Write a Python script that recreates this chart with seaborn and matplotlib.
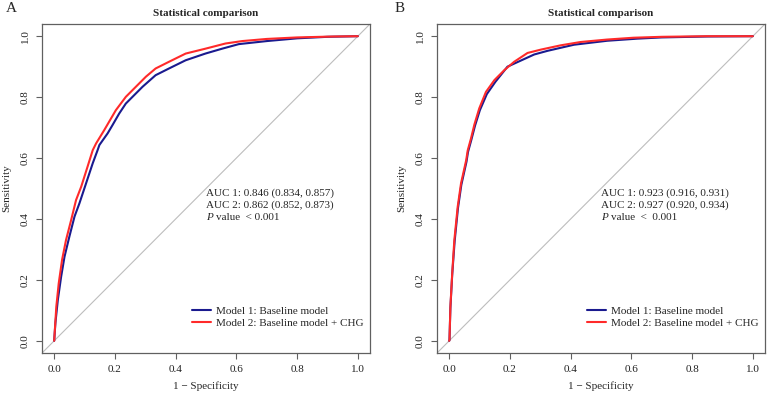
"""
ROC comparison: baseline model vs baseline model + CHG
"""

import pandas as pd
import matplotlib
matplotlib.use('Agg')
import matplotlib.pyplot as plt
import seaborn as sns

# Panel A
a_m1_fpr = [0, 0.004, 0.012, 0.023, 0.034, 0.050, 0.067, 0.083, 0.105, 0.127, 0.143, 0.149,
            0.176, 0.192, 0.214, 0.236, 0.258, 0.291, 0.334, 0.378, 0.433, 0.498, 0.553,
            0.608, 0.70, 0.80, 0.90, 1.0]
a_m1_tpr = [0, 0.058, 0.134, 0.211, 0.276, 0.342, 0.408, 0.451, 0.517, 0.583, 0.626, 0.643,
            0.681, 0.708, 0.746, 0.779, 0.801, 0.834, 0.872, 0.894, 0.921, 0.943, 0.959,
            0.974, 0.984, 0.993, 0.998, 1.0]
a_m2_fpr = [0, 0.007, 0.015, 0.026, 0.039, 0.056, 0.072, 0.089, 0.110, 0.127, 0.138, 0.165,
            0.203, 0.236, 0.269, 0.302, 0.334, 0.378, 0.433, 0.498, 0.564, 0.619, 0.70,
            0.80, 0.92, 1.0]
a_m2_tpr = [0, 0.112, 0.189, 0.266, 0.331, 0.397, 0.462, 0.506, 0.572, 0.626, 0.648, 0.692,
            0.757, 0.801, 0.834, 0.867, 0.894, 0.916, 0.943, 0.959, 0.976, 0.984, 0.991,
            0.996, 0.999, 1.0]

# Panel B
b_m1_fpr = [0, 0.001, 0.004, 0.010, 0.018, 0.029, 0.040, 0.057, 0.062, 0.073, 0.085, 0.101,
            0.124, 0.152, 0.192, 0.236, 0.28, 0.324, 0.411, 0.52, 0.62, 0.70, 0.85, 1.0]
b_m1_tpr = [0, 0.003, 0.108, 0.218, 0.327, 0.436, 0.512, 0.588, 0.62, 0.66, 0.706, 0.757,
            0.81, 0.85, 0.90, 0.92, 0.94, 0.952, 0.972, 0.985, 0.992, 0.996, 0.999, 1.0]
b_m2_fpr = [0, 0.001, 0.004, 0.010, 0.017, 0.028, 0.039, 0.056, 0.061, 0.072, 0.083, 0.099,
            0.121, 0.149, 0.181, 0.214, 0.258, 0.302, 0.367, 0.433, 0.52, 0.607, 0.70,
            0.85, 1.0]
b_m2_tpr = [0, 0.003, 0.112, 0.222, 0.331, 0.44, 0.517, 0.593, 0.625, 0.665, 0.71, 0.763,
            0.817, 0.856, 0.888, 0.916, 0.945, 0.956, 0.970, 0.981, 0.989, 0.995, 0.998,
            1.0, 1.0]

model_labels = ['Model 1: Baseline model', 'Model 2: Baseline model + CHG']
auc_a = ['AUC 1: 0.846 (0.834, 0.857)', 'AUC 2: 0.862 (0.852, 0.873)', 'value  < 0.001']
auc_b = ['AUC 1: 0.923 (0.916, 0.931)', 'AUC 2: 0.927 (0.920, 0.934)', 'value  <  0.001']
ticks = [0.0, 0.2, 0.4, 0.6, 0.8, 1.0]
tick_labels = ['0.0', '0.2', '0.4', '0.6', '0.8', '1.0']

sns.set_style('ticks')
plt.rcParams['font.family'] = ['Liberation Serif', 'DejaVu Serif']
plt.rcParams['font.size'] = 8

palette = {model_labels[0]: '#1a1a8f', model_labels[1]: '#ff2a2a'}
spine_col = '#606060'


def make_df(m1_fpr, m1_tpr, m2_fpr, m2_tpr):
    d1 = pd.DataFrame({'fpr': m1_fpr, 'tpr': m1_tpr, 'model': model_labels[0]})
    d2 = pd.DataFrame({'fpr': m2_fpr, 'tpr': m2_tpr, 'model': model_labels[1]})
    return pd.concat([d1, d2], ignore_index=True)


def draw_panel(ax, df, auc_lines):
    ax.axline((0, 0), (1, 1), color='#bdbdbd', linewidth=0.8, zorder=1)
    sns.lineplot(data=df, x='fpr', y='tpr', hue='model', palette=palette,
                 estimator=None, sort=False, linewidth=1.5, ax=ax, zorder=3)
    ax.set_xlim(-0.04, 1.04)
    ax.set_ylim(-0.04, 1.04)
    ax.set_xticks(ticks)
    ax.set_xticklabels(tick_labels)
    ax.set_yticks(ticks)
    ax.set_yticklabels(tick_labels, rotation=90, va='center')
    ax.tick_params(direction='out', length=4.3, width=0.8, color=spine_col,
                   labelsize=8, pad=4.5, labelcolor='#222222')
    for s in ax.spines.values():
        s.set_visible(True)
        s.set_color(spine_col)
        s.set_linewidth(0.9)
    ax.set_xlabel('1 \u2212 Specificity', fontsize=8, labelpad=5)
    ax.set_ylabel('Sensitivity', fontsize=8, labelpad=7)
    ax.set_title('Statistical comparison', fontsize=8, fontweight='bold', pad=6)

    # AUC annotation block
    ax.text(0.5, 0.485, auc_lines[0], fontsize=8, va='center', ha='left')
    ax.text(0.5, 0.445, auc_lines[1], fontsize=8, va='center', ha='left')
    ax.text(0.5, 0.405, 'P', fontsize=8, va='center', ha='left', style='italic')
    ax.annotate(auc_lines[2], xy=(0.5, 0.405), xytext=(7.2, 0), textcoords='offset points',
                fontsize=8, va='center', ha='left')

    handles, labels = ax.get_legend_handles_labels()
    ax.legend(handles, labels, loc='upper left', bbox_to_anchor=(0.455, 0.115),
              bbox_transform=ax.transData, frameon=False, fontsize=8,
              handlelength=1.7, handletextpad=0.4, labelspacing=0.25, borderpad=0,
              borderaxespad=0)
    return ax


fig = plt.figure(figsize=(7.67, 3.95), dpi=100)
ax_a = fig.add_axes([0.0548, 0.1063, 0.4276, 0.8329])
ax_b = fig.add_axes([0.5698, 0.1063, 0.4276, 0.8329])

draw_panel(ax_a, make_df(a_m1_fpr, a_m1_tpr, a_m2_fpr, a_m2_tpr), auc_a)
draw_panel(ax_b, make_df(b_m1_fpr, b_m1_tpr, b_m2_fpr, b_m2_tpr), auc_b)

fig.text(6 / 767, 1 - 9 / 395, 'A', fontsize=11, va='center', ha='left')
fig.text(395 / 767, 1 - 9 / 395, 'B', fontsize=11, va='center', ha='left')

fig.savefig('out.png', dpi=100)
plt.close(fig)
